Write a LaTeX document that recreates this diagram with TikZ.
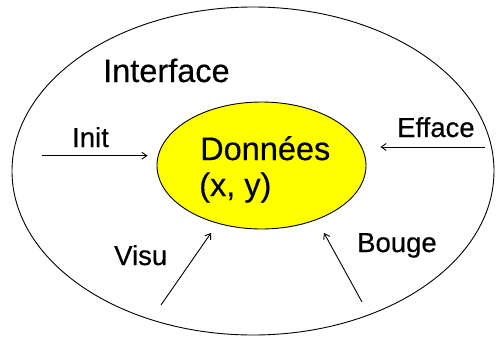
\documentclass[tikz,border=0pt]{standalone}
\usepackage{fontspec}
\setmainfont{Liberation Sans}
\newfontfamily\slidefont[FakeBold=0.4]{Liberation Sans}
\usetikzlibrary{arrows.meta,shapes.geometric}
\definecolor{datayellow}{RGB}{255,255,0}
\tikzset{
  x=1pt, y=-1pt,
  bubble/.style={draw=black, line width=0.9pt, ellipse, inner sep=0pt},
  bigtext/.style={font=\slidefont\fontsize{32.5}{38}\selectfont, inner sep=0pt, anchor=base west},
  label text/.style={font=\slidefont\fontsize{27.5}{32}\selectfont, inner sep=0pt, anchor=base west},
  call/.style={draw=black, line width=0.9pt, -{Straight Barb[length=5pt,width=7pt,line width=0.9pt]}}
}
\begin{document}
\begin{tikzpicture}
\useasboundingbox (0,0) rectangle (496,338);
% outer module boundary and the data it encloses
\node[bubble, minimum width=482pt, minimum height=328pt] (iface) at (253,171) {};
\node[bubble, fill=datayellow, minimum width=209pt, minimum height=127pt] (data) at (261.5,165.5) {};
% texts
\node[bigtext] (title) at (103,82) {Interface};
\node[bigtext] (donnees) at (200,160) {Données};
\node[bigtext] (xy) at (199,196) {(x, y)};
\node[label text] (init) at (72,147) {Init};
\node[label text] (efface) at (397,137) {Efface};
\node[label text] (visu) at (114,265) {Visu};
\node[label text] (bouge) at (357,252) {Bouge};
% operations acting on the data
\coordinate (init-src) at (42,155.7);
\coordinate (eff-src) at (485,147);
\coordinate (visu-src) at (161,305);
\coordinate (visu-tip) at (211,233);
\coordinate (bouge-src) at (362,302);
\coordinate (bouge-tip) at (324,233);
\draw[call, shorten >=9pt] (init-src) -- (init-src -| data.west);
\draw[call, shorten >=14pt] (eff-src) -- (eff-src -| data.east);
\draw[call] (visu-src) -- (visu-tip);
\draw[call] (bouge-src) -- (bouge-tip);
\end{tikzpicture}
\end{document}
